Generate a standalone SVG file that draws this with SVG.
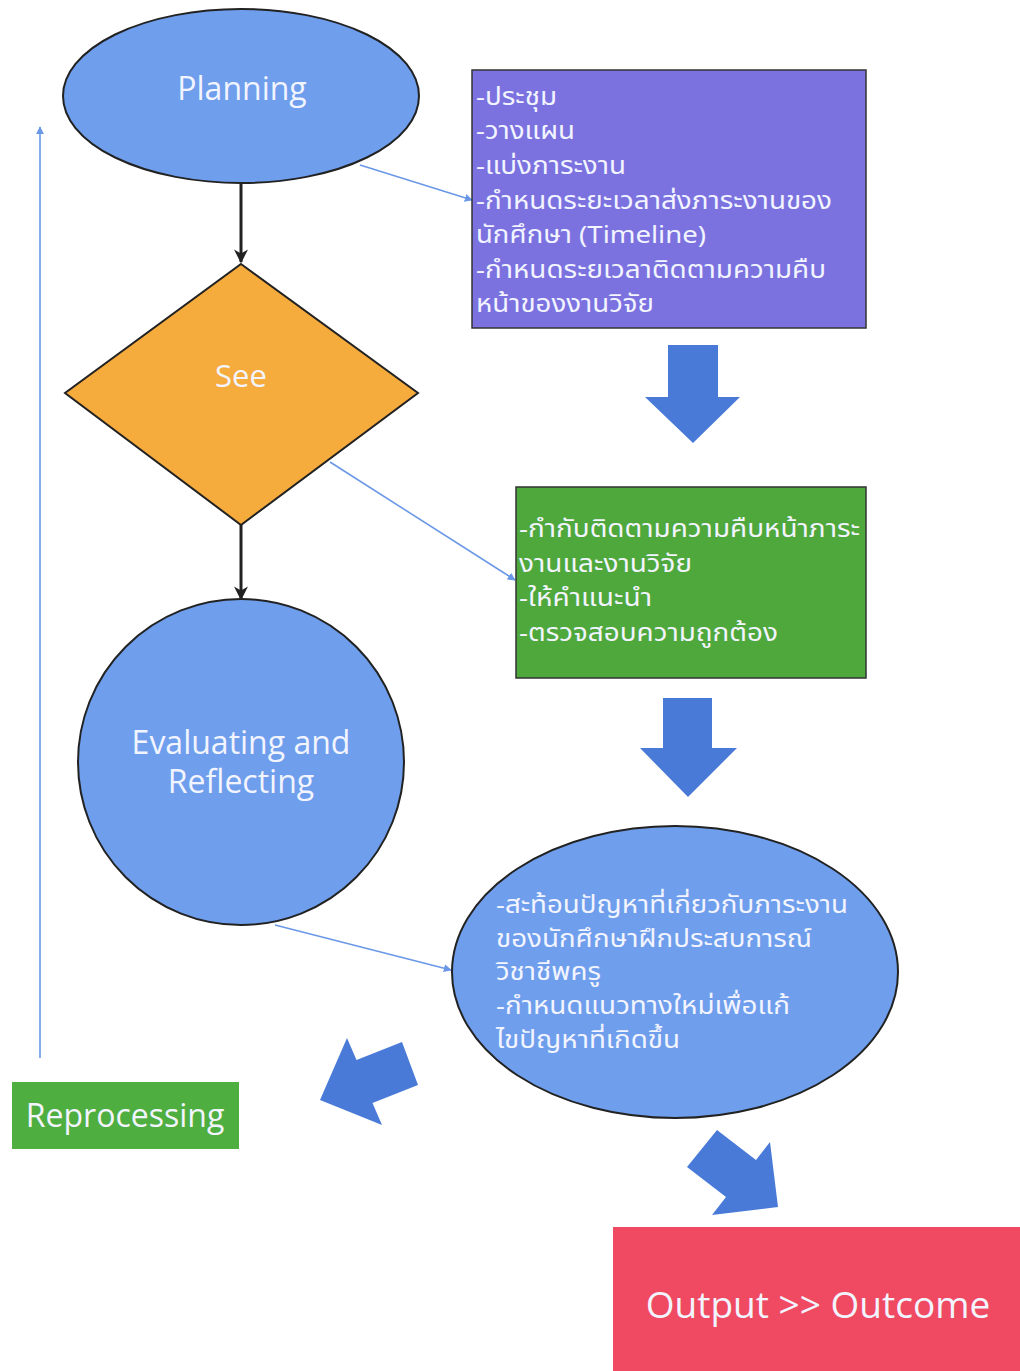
<svg xmlns="http://www.w3.org/2000/svg" width="1020" height="1371" viewBox="0 0 1020 1371">
<defs>
<style>
.lbl{font-family:"Open Sans","Noto Sans",sans-serif;fill:#f2f4ff;text-anchor:middle}
.th{font-family:"Noto Sans Thai","Noto Sans","Noto Sans CJK SC",sans-serif;fill:#f2f4ff;font-size:24px}
.node{stroke:#222;stroke-width:2}
.blue{fill:#6e9eec}
.blk{fill:#4a7ad8}
.thin{stroke:#6a98e6;stroke-width:1.6;fill:none}
.dark{stroke:#222;stroke-width:3;fill:none}
</style>
<marker id="ah" viewBox="0 0 10 10" refX="9" refY="5" markerWidth="8" markerHeight="8" orient="auto" markerUnits="userSpaceOnUse"><path d="M0,0 L10,5 L0,10 Z" fill="#6a98e6"/></marker>
<marker id="ahd" viewBox="0 0 10 10" refX="9" refY="5" markerWidth="14" markerHeight="14" orient="auto" markerUnits="userSpaceOnUse"><path d="M0,0 L10,5 L0,10 L3,5 Z" fill="#222"/></marker>
</defs>
<rect width="1020" height="1371" fill="#ffffff"/>
<g id="connectors">
<line class="dark" x1="241" y1="184" x2="241" y2="262" marker-end="url(#ahd)"/>
<line class="dark" x1="241" y1="525" x2="241" y2="599" marker-end="url(#ahd)"/>
<line class="thin" x1="360" y1="165" x2="472" y2="200" marker-end="url(#ah)"/>
<line class="thin" x1="330" y1="462" x2="515" y2="580" marker-end="url(#ah)"/>
<line class="thin" x1="275" y1="925" x2="451" y2="970" marker-end="url(#ah)"/>
<line class="thin" x1="40" y1="1058" x2="40" y2="127" marker-end="url(#ah)"/>
</g>
<g id="planning">
<ellipse class="node blue" cx="241" cy="96" rx="178" ry="87"/>
<text class="lbl" x="242" y="100" font-size="32">Planning</text>
</g>
<g id="see">
<polygon class="node" fill="#f6ab3d" points="241,264 418,393 241,525 65,393"/>
<text class="lbl" x="241" y="387" font-size="31">See</text>
</g>
<g id="evaluating">
<circle class="node blue" cx="241" cy="762" r="163"/>
<text class="lbl" x="241" y="754" font-size="32">Evaluating and</text>
<text class="lbl" x="241" y="793" font-size="32">Reflecting</text>
</g>
<g id="plan-detail">
<rect x="472" y="70" width="394" height="258" fill="#7b72e0" stroke="#333" stroke-width="1.5"/>
<text class="th" x="476" y="105" textLength="81" lengthAdjust="spacingAndGlyphs">-ประชุม</text>
<text class="th" x="476" y="139" textLength="99" lengthAdjust="spacingAndGlyphs">-วางแผน</text>
<text class="th" x="476" y="174" textLength="150" lengthAdjust="spacingAndGlyphs">-แบ่งภาระงาน</text>
<text class="th" x="476" y="209" textLength="356" lengthAdjust="spacingAndGlyphs">-กำหนดระยะเวลาส่งภาระงานของ</text>
<text class="th" x="476" y="243" textLength="230" lengthAdjust="spacingAndGlyphs">นักศึกษา (Timeline)</text>
<text class="th" x="476" y="278" textLength="350" lengthAdjust="spacingAndGlyphs">-กำหนดระยเวลาติดตามความคืบ</text>
<text class="th" x="476" y="312" textLength="178" lengthAdjust="spacingAndGlyphs">หน้าของงานวิจัย</text>
</g>
<g id="see-detail">
<rect x="516" y="487" width="350" height="191" fill="#4ea83c" stroke="#333" stroke-width="1.5"/>
<text class="th" x="519" y="537" textLength="341" lengthAdjust="spacingAndGlyphs">-กำกับติดตามความคืบหน้าภาระ</text>
<text class="th" x="519" y="572" textLength="173" lengthAdjust="spacingAndGlyphs">งานและงานวิจัย</text>
<text class="th" x="519" y="606" textLength="133" lengthAdjust="spacingAndGlyphs">-ให้คำแนะนำ</text>
<text class="th" x="519" y="641" textLength="259" lengthAdjust="spacingAndGlyphs">-ตรวจสอบความถูกต้อง</text>
</g>
<g id="reflect-detail">
<ellipse class="node blue" cx="675" cy="972" rx="223" ry="146"/>
<text class="th" x="496" y="913" textLength="352" lengthAdjust="spacingAndGlyphs">-สะท้อนปัญหาที่เกี่ยวกับภาระงาน</text>
<text class="th" x="496" y="947" textLength="316" lengthAdjust="spacingAndGlyphs">ของนักศึกษาฝึกประสบการณ์</text>
<text class="th" x="496" y="980" textLength="105" lengthAdjust="spacingAndGlyphs">วิชาชีพครู</text>
<text class="th" x="496" y="1014" textLength="294" lengthAdjust="spacingAndGlyphs">-กำหนดแนวทางใหม่เพื่อแก้</text>
<text class="th" x="496" y="1048" textLength="184" lengthAdjust="spacingAndGlyphs">ไขปัญหาที่เกิดขึ้น</text>
</g>
<g id="block-arrows">
<polygon class="blk" points="668,345 718,345 718,397 740,397 693,443 645,397 668,397"/>
<polygon class="blk" points="663,698 712,698 712,748 737,748 688,797 640,748 663,748"/>
<polygon class="blk" points="402,1042 356.5,1060 347,1038 320,1100 382,1125 372.5,1103 418,1085"/>
<polygon class="blk" points="717,1130 756,1160 770,1142 778,1207 712,1215 726,1197 687,1167"/>
</g>
<g id="reprocessing">
<rect x="12" y="1082" width="227" height="67" fill="#4eae3f"/>
<text class="lbl" x="125" y="1127" font-size="32">Reprocessing</text>
</g>
<g id="output">
<rect x="613" y="1227" width="407" height="144" fill="#f04a62"/>
<text class="lbl" x="818" y="1318" font-size="37">Output &gt;&gt; Outcome</text>
</g>
</svg>
